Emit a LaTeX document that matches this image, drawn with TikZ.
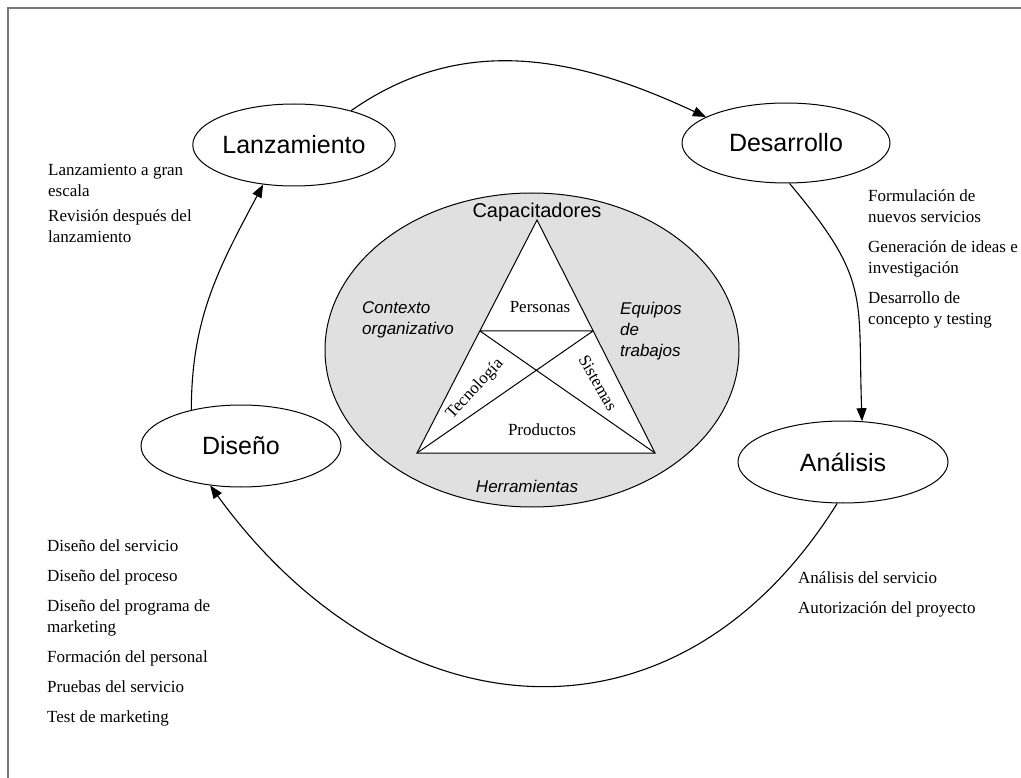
\documentclass[tikz,border=0pt]{standalone}
\usepackage{fontspec}
\setmainfont{Liberation Serif}
\setsansfont{Liberation Sans}
\usetikzlibrary{shapes.geometric,arrows.meta,calc}
\definecolor{coregray}{RGB}{224,224,224}
\definecolor{framegray}{RGB}{120,120,120}
\begin{document}
\begin{tikzpicture}[x=1pt,y=-1pt,
  stage/.style={ellipse,draw,line width=1pt,fill=white,minimum width=200pt,minimum height=82pt,inner sep=0pt,font=\sffamily\fontsize{25}{30}\selectfont},
  flow/.style={line width=1.1pt,-{Triangle[length=13pt,width=10pt]}},
  tasks/.style={anchor=north west,align=left,inner sep=0pt,font=\fontsize{17}{21}\selectfont},
  inner/.style={font=\fontsize{17}{20}\selectfont,inner sep=0pt},
  factor/.style={font=\sffamily\itshape\fontsize{17}{21}\selectfont,align=left,inner sep=0pt},
]
\useasboundingbox (0,0) rectangle (1021,778);
\fill[white] (0,0) rectangle (1021,778);
% outer frame (left and top edges only)
\draw[framegray,line width=2pt] (8,778) -- (8,8) -- (1021,8);

% central grey field
\node[ellipse,draw,line width=1pt,fill=coregray,minimum width=414pt,minimum height=314pt] (core) at (532,350) {};

% triangle of enablers
\coordinate (apex) at (537,220);
\coordinate (bl) at (417,453);
\coordinate (br) at (655,453);
\coordinate (ml) at ($(apex)!0.476!(bl)$);
\coordinate (mr) at ($(apex)!0.476!(br)$);
\filldraw[fill=white,line width=1pt] (apex) -- (bl) -- (br) -- cycle;
\draw[line width=1pt] (ml) -- (mr) (ml) -- (br) (mr) -- (bl);

\node[font=\sffamily\fontsize{20}{24}\selectfont,inner sep=0pt] (cap) at (537,212) {Capacitadores};
\node[inner] (per) at (540,307) {Personas};
\node[inner] (prod) at (542,430) {Productos};
\node[inner,rotate=47] (tec) at (475,389) {Tecnología};
\node[inner,rotate=-60] (sis) at (598,383) {Sistemas};
\node[factor,anchor=north west] (ctx) at (362,301) {Contexto\\organizativo};
\node[factor,anchor=north west] (eq) at (620,302) {Equipos\\de\\trabajos};
\node[factor] (herr) at (527,486) {Herramientas};

% stages of the cycle
\node[stage] (lanz) at (294,145) {Lanzamiento};
\node[stage,minimum width=208pt,minimum height=80pt] (des) at (786,143) {Desarrollo};
\node[stage] (dis) at (241,446) {Diseño};
\node[stage,minimum width=210pt] (ana) at (843,462) {Análisis};

\draw[flow] (lanz.31) to[out=35,in=155] (des.162);
\draw[flow] (des.-85) to[out=-50,in=92,looseness=1.3] (ana.65);
\draw[flow] (ana.-98) to[out=-122,in=-54,looseness=1.25] (dis.-128);
\draw[flow] (dis.144) to[out=90,in=-118] (lanz.-128);

% activities of each stage
\node[tasks] (tl) at (48,164) {Lanzamiento a gran\\escala\\[4pt]Revisión después del\\lanzamiento};
\node[tasks] (td) at (868,189) {Formulación de\\nuevos servicios\\[9pt]Generación de ideas e\\investigación\\[9pt]Desarrollo de\\concepto y testing};
\node[tasks] (ta) at (798,571) {Análisis del servicio\\[9pt]Autorización del proyecto};
\node[tasks] (tdis) at (47,540) {Diseño del servicio\\[9pt]Diseño del proceso\\[9pt]Diseño del programa de\\marketing\\[9pt]Formación del personal\\[9pt]Pruebas del servicio\\[9pt]Test de marketing};
\end{tikzpicture}
\end{document}
